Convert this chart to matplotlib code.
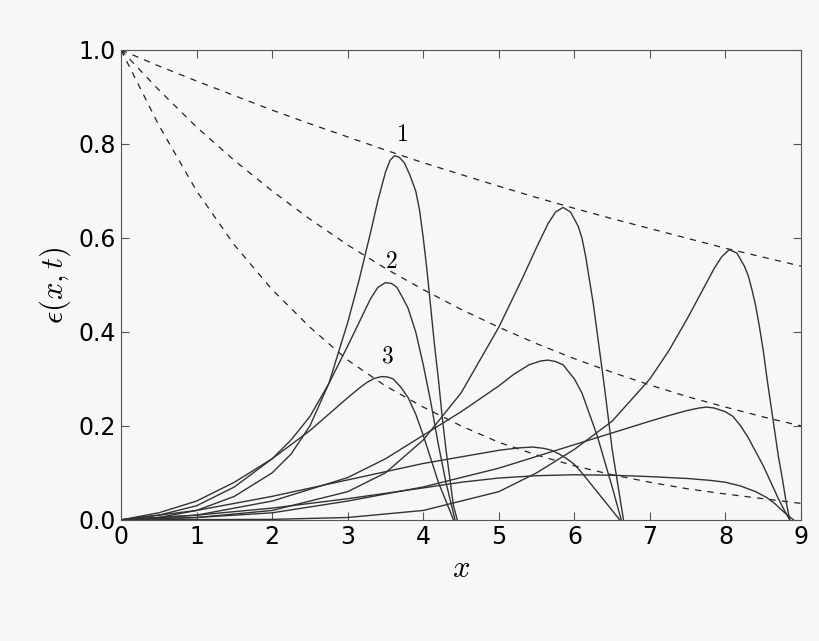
import matplotlib
matplotlib.use("Agg")
import matplotlib.pyplot as plt

plt.rcParams['mathtext.fontset'] = 'cm'

dx = [0, 0.5, 1, 1.5, 2, 2.5, 3, 3.5, 4, 4.5, 5, 5.5, 6, 6.5, 7, 7.5, 8, 8.5, 9]
dash_top = [1, .966, .934, .903, .872, .843, .815, .787, .76, .735, .71, .686, .663, .641, .62, .599, .578, .559, .54]
dash_mid = [1, .915, .836, .765, .70, .64, .585, .535, .49, .448, .41, .375, .343, .314, .287, .262, .24, .219, .20]
dash_bot = [1, .84, .70, .585, .49, .41, .34, .285, .24, .20, .165, .138, .115, .096, .08, .066, .055, .045, .035]

A1x = [0, 0.5, 1, 1.5, 2, 2.25, 2.5, 2.75, 3, 3.15, 3.3, 3.4, 3.5, 3.56, 3.62, 3.68, 3.75, 3.82, 3.9, 3.95, 4.0, 4.05, 4.1, 4.15, 4.2, 4.25, 4.3, 4.35, 4.4, 4.45]
A1y = [0, .005, .02, .05, .10, .14, .20, .29, .42, .51, .61, .68, .74, .765, .775, .772, .76, .735, .70, .66, .60, .53, .45, .37, .30, .22, .15, .09, .03, 0]
A2x = [0, 0.5, 1, 1.5, 2, 2.25, 2.5, 2.75, 3, 3.15, 3.3, 3.4, 3.5, 3.58, 3.65, 3.72, 3.8, 3.9, 4.0, 4.05, 4.1, 4.15, 4.2, 4.25, 4.3, 4.36, 4.42]
A2y = [0, .01, .03, .07, .13, .17, .22, .29, .37, .42, .47, .495, .505, .503, .495, .475, .45, .40, .33, .29, .25, .205, .16, .12, .08, .04, 0]
A3x = [0, 0.5, 1, 1.5, 2, 2.5, 2.75, 3, 3.15, 3.25, 3.35, 3.45, 3.53, 3.6, 3.7, 3.8, 3.9, 4.0, 4.05, 4.1, 4.15, 4.2, 4.25, 4.3, 4.35, 4.4]
A3y = [0, .015, .04, .08, .13, .19, .225, .26, .28, .292, .301, .305, .304, .30, .283, .26, .225, .18, .155, .13, .105, .08, .06, .04, .02, 0]
B1x = [0, 1, 2, 3, 3.5, 4, 4.5, 5, 5.3, 5.5, 5.65, 5.75, 5.85, 5.95, 6.05, 6.1, 6.15, 6.2, 6.25, 6.3, 6.35, 6.4, 6.45, 6.5, 6.55, 6.6, 6.65]
B1y = [0, .005, .02, .06, .10, .17, .27, .41, .51, .58, .63, .655, .665, .655, .625, .60, .56, .51, .46, .40, .34, .28, .215, .15, .10, .05, 0]
B2x = [0, 1, 2, 3, 3.5, 4, 4.5, 5, 5.2, 5.4, 5.55, 5.65, 5.75, 5.85, 5.95, 6.0, 6.1, 6.2, 6.3, 6.4, 6.5, 6.56, 6.62]
B2y = [0, .01, .04, .09, .13, .18, .23, .285, .31, .33, .338, .34, .337, .33, .31, .30, .27, .225, .18, .125, .07, .035, 0]
B3x = [0, 1, 2, 3, 4, 4.5, 5, 5.25, 5.45, 5.6, 5.7, 5.8, 5.9, 6.0, 6.1, 6.2, 6.3, 6.4, 6.5, 6.6]
B3y = [0, .02, .05, .085, .12, .134, .148, .153, .155, .152, .148, .14, .13, .118, .10, .08, .06, .04, .02, 0]
C1x = [0, 2, 3, 4, 5, 5.5, 6, 6.5, 7, 7.25, 7.5, 7.7, 7.85, 7.95, 8.05, 8.15, 8.25, 8.3, 8.35, 8.4, 8.45, 8.5, 8.55, 8.6, 8.65, 8.7, 8.75, 8.8, 8.85]
C1y = [0, .001, .005, .02, .06, .10, .15, .21, .30, .36, .43, .49, .535, .56, .575, .568, .54, .52, .49, .455, .41, .36, .30, .245, .19, .135, .09, .04, 0]
C2x = [0, 1, 2, 3, 4, 5, 6, 6.5, 7, 7.25, 7.5, 7.65, 7.75, 7.85, 8.0, 8.1, 8.2, 8.3, 8.4, 8.5, 8.6, 8.7, 8.78, 8.85]
C2y = [0, .005, .015, .04, .07, .11, .16, .185, .21, .222, .233, .238, .24, .238, .23, .22, .20, .175, .145, .115, .08, .045, .02, 0]
C3x = [0, 1, 2, 3, 4, 4.5, 5, 5.5, 6, 6.5, 7, 7.5, 7.8, 8.0, 8.2, 8.4, 8.55, 8.65, 8.75, 8.82, 8.9]
C3y = [0, .01, .025, .045, .068, .08, .089, .094, .096, .095, .092, .088, .084, .08, .072, .06, .047, .035, .02, .01, 0]

labels = ['1', '2', '3']
label_x = [3.72, 3.58, 3.52]
label_y = [0.795, 0.525, 0.325]

fig = plt.figure(figsize=(8.2, 6.41), dpi=100, facecolor='#f7f7f7')
ax = fig.add_axes([0.1476, 0.189, 0.8293, 0.733], facecolor='#f7f7f7')

for yy in (dash_top, dash_mid, dash_bot):
    ax.plot(dx, yy, ls=(0, (5, 5)), color='#222222', lw=0.9)
for xx, yy in [(A1x, A1y), (A2x, A2y), (A3x, A3y), (B1x, B1y), (B2x, B2y),
               (B3x, B3y), (C1x, C1y), (C2x, C2y), (C3x, C3y)]:
    ax.plot(xx, yy, color='#333333', lw=1.0)
for t, lx, ly in zip(labels, label_x, label_y):
    ax.text(lx, ly, '$' + t + '$', fontsize=17, ha='center', va='bottom')

ax.set_xlim(0, 9)
ax.set_ylim(0, 1)
ax.set_xticks(range(10))
ax.set_yticks([0, 0.2, 0.4, 0.6, 0.8, 1.0])
ax.set_yticklabels(['0.0', '0.2', '0.4', '0.6', '0.8', '1.0'])
for s in ax.spines.values():
    s.set_color('#555555')
ax.tick_params(which='both', direction='in', top=True, right=True, labelsize=17,
               length=6, color='#555555')
ax.set_xlabel('$x$', fontsize=22)
ax.set_ylabel(r'$\epsilon(x,t)$', fontsize=22)
fig.savefig('out.png', dpi=100, facecolor=fig.get_facecolor())
